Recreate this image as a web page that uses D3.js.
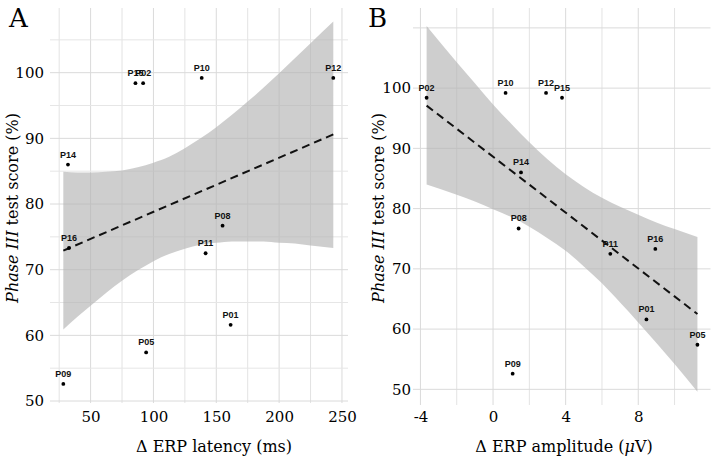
<!DOCTYPE html>
<html>
<head>
<meta charset="utf-8">
<script src="https://cdn.jsdelivr.net/npm/d3@7"></script>
<style>
  body { margin: 0; background: #fff; }
  svg { display: block; }
</style>
</head>
<body>
<div id="chart"></div>
<script>
/********** Data **********/
var ids       = ["P01", "P02", "P05", "P08", "P09", "P10", "P11", "P12", "P14", "P15", "P16"]
var score     = [61.6, 98.4, 57.4, 76.7, 52.6, 99.2, 72.5, 99.2, 86.0, 98.4, 73.3]
var latency   = [161.4, 91.8, 94.2, 155.0, 28.3, 138.4, 141.5, 243.1, 32.0, 85.7, 32.8]
var amplitude = [8.45, -3.66, 11.26, 1.41, 1.08, 0.69, 6.46, 2.92, 1.54, 3.80, 8.94]

// fitted line end points
var fitXA = [28.3, 243.1], fitYA = [72.9, 90.6]
var fitXB = [-3.66, 11.26], fitYB = [97.1, 62.5]

// confidence band
var bandXA  = [28.3, 40, 50, 62.5, 75, 87.5, 100, 112.5, 125, 137.5, 150, 162.5, 175, 187.5, 200, 212.5, 225, 243.1]
var bandLoA = [60.9, 62.9, 64.5, 66.5, 68.3, 69.9, 71.3, 72.4, 73.2, 73.8, 74.1, 74.3, 74.3, 74.3, 74.1, 74.0, 73.7, 73.3]
var bandHiA = [84.9, 84.8, 84.8, 84.9, 85.1, 85.6, 86.3, 87.2, 88.5, 90.0, 91.7, 93.6, 95.6, 97.7, 99.9, 102.2, 104.5, 107.8]

var bandXB  = [-3.66, -2, -1, 0, 1, 2, 3, 4, 5, 6, 7, 8, 9, 10, 11.26]
var bandLoB = [84.0, 82.3, 81.2, 79.9, 78.6, 77.0, 75.1, 73.0, 70.4, 67.6, 64.4, 61.1, 57.7, 54.2, 49.6]
var bandHiB = [110.3, 104.3, 100.8, 97.3, 94.1, 91.0, 88.2, 85.7, 83.6, 81.8, 80.3, 79.0, 77.7, 76.6, 75.3]

// ticks
var xTicksA = [50, 100, 150, 200, 250], xMinorA = [25, 75, 125, 175, 225]
var yTicksA = [50, 60, 70, 80, 90, 100], yMinorA = [55, 65, 75, 85, 95, 105]
var xTicksB = [-4, 0, 4, 8], xMinorB = [-2, 2, 6, 10]
var yTicksB = [50, 60, 70, 80, 90, 100], yGridB = [50, 60, 70, 80, 90, 100, 110], yMinorB = []

/********** SVG **********/
var W = 714, H = 458
var svg = d3.select("#chart").append("svg")
    .attr("width", W)
    .attr("height", H)

var serif = "'DejaVu Serif', serif"
var sans = "'Liberation Sans', Arial, sans-serif"

function drawPanel(p) {
  var x = d3.scaleLinear().domain(p.xDomain).range([p.left, p.right])
  var y = d3.scaleLinear().domain(p.yDomain).range([p.bottom, p.top])
  var g = svg.append("g")

  // grid
  g.selectAll(".vminor").data(p.xMinor).enter().append("line")
    .attr("x1", d => x(d)).attr("x2", d => x(d))
    .attr("y1", p.top).attr("y2", p.bottom)
    .attr("stroke", "#e3e3e3").attr("stroke-width", 1)
  g.selectAll(".vmajor").data(p.xTicks).enter().append("line")
    .attr("x1", d => x(d)).attr("x2", d => x(d))
    .attr("y1", p.top).attr("y2", p.bottom)
    .attr("stroke", "#dadada").attr("stroke-width", 1)
  g.selectAll(".hminor").data(p.yMinor).enter().append("line")
    .attr("y1", d => y(d)).attr("y2", d => y(d))
    .attr("x1", p.left).attr("x2", p.right)
    .attr("stroke", "#e6e6e6").attr("stroke-width", 1)
  g.selectAll(".hmajor").data(p.yGrid).enter().append("line")
    .attr("y1", d => y(d)).attr("y2", d => y(d))
    .attr("x1", p.left).attr("x2", p.right)
    .attr("stroke", "#dadada").attr("stroke-width", 1)

  // band
  var band = p.bandX.map((v, i) => ({x: v, lo: p.bandLo[i], hi: p.bandHi[i]}))
  g.append("path")
    .datum(band)
    .attr("fill", "#b4b4b4")
    .attr("fill-opacity", 0.65)
    .attr("d", d3.area()
      .curve(d3.curveMonotoneX)
      .x(d => x(d.x))
      .y0(d => y(d.lo))
      .y1(d => y(d.hi)))

  // fitted line
  var fit = p.fitX.map((v, i) => ({x: v, y: p.fitY[i]}))
  g.append("path")
    .datum(fit)
    .attr("fill", "none")
    .attr("stroke", "#111")
    .attr("stroke-width", 2)
    .attr("stroke-dasharray", "8,5")
    .attr("d", d3.line().x(d => x(d.x)).y(d => y(d.y)))

  // points + labels
  var pts = ids.map((id, i) => ({id: id, x: p.xs[i], y: score[i]}))
  g.selectAll(".pt").data(pts).enter().append("circle")
    .attr("cx", d => x(d.x)).attr("cy", d => y(d.y))
    .attr("r", 1.9).attr("fill", "#000")
  g.selectAll(".lab").data(pts).enter().append("text")
    .attr("x", d => x(d.x)).attr("y", d => y(d.y) - 7)
    .attr("text-anchor", "middle")
    .style("font-family", sans).style("font-size", "9px").style("font-weight", "bold")
    .attr("fill", "#111")
    .text(d => d.id)

  // axes (labels only)
  var ax = g.append("g")
    .attr("transform", "translate(0," + p.bottom + ")")
    .call(d3.axisBottom(x).tickValues(p.xTicks).tickSize(0).tickPadding(p.xPad).tickFormat(d3.format("d")))
  var ay = g.append("g")
    .attr("transform", "translate(" + p.left + ",0)")
    .call(d3.axisLeft(y).tickValues(p.yTicks).tickSize(0).tickPadding(p.yPad))
  ;[ax, ay].forEach(a => {
    a.select(".domain").remove()
    a.selectAll("text").style("font-family", serif).style("font-size", "15px").attr("fill", "#000")
  })
  ax.selectAll("text").text(d => d < 0 ? "-" + Math.abs(d) : d)

  // x title
  var xt = g.append("text")
    .attr("x", p.xTitleX).attr("y", 452)
    .attr("text-anchor", "middle")
    .style("font-family", serif).style("font-size", "16px").attr("fill", "#000")
  p.xTitle.forEach(t => xt.append("tspan").style("font-style", t[1] ? "italic" : "normal").text(t[0]))

  // y title
  var yt = g.append("text")
    .attr("transform", "translate(" + p.yTitleX + "," + p.yTitleY + ") rotate(-90)")
    .attr("text-anchor", "middle")
    .style("font-family", serif).style("font-size", "16px").attr("fill", "#000")
  yt.append("tspan").style("font-style", "italic").text("Phase III")
  yt.append("tspan").text(" test score (%)")

  // panel letter
  g.append("text")
    .attr("x", p.letterX).attr("y", 27)
    .style("font-family", serif).style("font-size", "26px").attr("fill", "#000")
    .text(p.letter)
}

drawPanel({
  letter: "A", letterX: 9,
  xs: latency,
  xDomain: [17.7, 254.8], yDomain: [49.7, 109.85],
  left: 50, right: 348, top: 8, bottom: 403,
  xTicks: xTicksA, xMinor: xMinorA, yTicks: yTicksA, yMinor: yMinorA, yGrid: yTicksA,
  bandX: bandXA, bandLo: bandLoA, bandHi: bandHiA,
  fitX: fitXA, fitY: fitYA,
  xPad: 8, yPad: 6,
  xTitle: [["\u0394 ERP latency (ms)", false]], xTitleX: 214,
  yTitleX: 18, yTitleY: 208
})

drawPanel({
  letter: "B", letterX: 368,
  xs: amplitude,
  xDomain: [-4.41, 11.98], yDomain: [47.4, 113.3],
  left: 413, right: 710.5, top: 8, bottom: 405,
  xTicks: xTicksB, xMinor: xMinorB, yTicks: yTicksB, yMinor: yMinorB, yGrid: yGridB,
  bandX: bandXB, bandLo: bandLoB, bandHi: bandHiB,
  fitX: fitXB, fitY: fitYB,
  xPad: 6, yPad: 2,
  xTitle: [["\u0394 ERP amplitude (", false], ["\u03bc", true], ["V)", false]], xTitleX: 564,
  yTitleX: 384, yTitleY: 208
})
</script>
</body>
</html>
